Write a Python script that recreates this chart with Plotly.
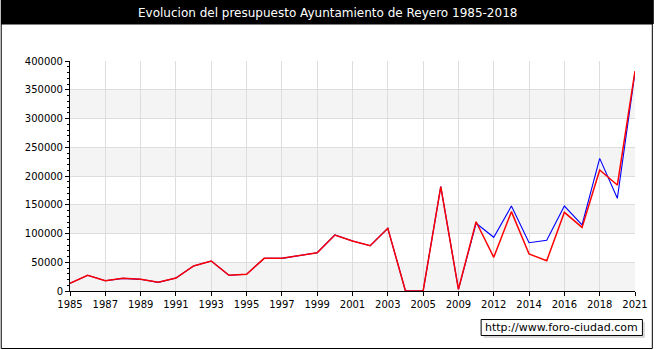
import plotly.graph_objects as go

years = [str(y) for y in range(1985, 2006)] + ["2007", "2009", "2011", "2012", "2013", "2014",
                                              "2015", "2016", "2017", "2018", "2020", "2021"]
tick_labels = years[::2]

red_values = [13400, 27300, 17900, 22000, 20300, 15100, 22600, 43500, 52200, 27300, 29000,
              56800, 56800, 61400, 66600, 97400, 87000, 78800, 109000, 0, 0, 181400, 3000,
              120500, 58600, 138000, 64300, 52700, 136800, 110700, 210400, 184300, 382600]
blue_values = [13400, 27300, 17900, 22000, 20300, 15100, 22600, 43500, 52200, 27300, 29000,
               56800, 56800, 61400, 66600, 97400, 87000, 78800, 109000, 0, 0, 181400, 3000,
               117700, 93400, 147800, 84000, 88100, 147800, 114800, 230700, 161200, 380000]

title_text = "Evolucion del presupuesto Ayuntamiento de Reyero 1985-2018"
watermark = "http://www.foro-ciudad.com"

W, H = 660, 350
L, R, T, B = 70, 641, 61, 291


def px(x):
    return (x - L) / (R - L)


def py(y):
    return (B - y) / (B - T)


fig = go.Figure()
fig.add_trace(go.Scatter(x=years, y=blue_values, mode="lines",
                         line=dict(color="#0000ff", width=1.1), name="Ingresos"))
fig.add_trace(go.Scatter(x=years, y=red_values, mode="lines",
                         line=dict(color="#ff0000", width=1.5), name="Gastos"))

shapes = []
# alternating bands
for lo in [0, 100000, 200000, 300000]:
    shapes.append(dict(type="rect", xref="paper", yref="y", x0=0, x1=1, y0=lo, y1=lo + 50000,
                       fillcolor="#f4f4f4", line=dict(width=0), layer="below"))
# title bar
shapes.append(dict(type="rect", xref="paper", yref="paper", x0=px(0), x1=px(W), y0=py(0), y1=py(24),
                   fillcolor="#000000", line=dict(width=0)))
# outer border
shapes.append(dict(type="rect", xref="paper", yref="paper", x0=px(0.5), x1=px(658.5), y0=py(24), y1=py(348.5),
                   fillcolor="rgba(0,0,0,0)", line=dict(color="#000000", width=1)))
# watermark shadow and box
shapes.append(dict(type="rect", xref="paper", yref="paper", x0=px(488), x1=px(651), y0=py(322), y1=py(338),
                   fillcolor="#d8d8d8", line=dict(width=0)))
shapes.append(dict(type="rect", xref="paper", yref="paper", x0=px(485.5), x1=px(648.5), y0=py(319.5), y1=py(335.5),
                   fillcolor="#ffffff", line=dict(color="#000000", width=1)))

annotations = [
    dict(text=title_text, xref="paper", yref="paper", x=px(330), y=py(12.5), showarrow=False,
         font=dict(family="DejaVu Sans", size=12, color="#ffffff"), xanchor="center", yanchor="middle"),
    dict(text=watermark, xref="paper", yref="paper", x=px(567), y=py(327.5), showarrow=False,
         font=dict(family="DejaVu Sans", size=11, color="#000000"), xanchor="center", yanchor="middle"),
]

fig.update_layout(
    width=W, height=H,
    margin=dict(l=L, r=W - R, t=T, b=H - B, pad=0),
    paper_bgcolor="#ffffff", plot_bgcolor="rgba(0,0,0,0)",
    showlegend=False,
    shapes=shapes, annotations=annotations,
    font=dict(family="DejaVu Sans", size=10, color="#000000"),
    xaxis=dict(type="category", range=[0, len(years) - 1], tickmode="array", tickvals=tick_labels,
               ticktext=tick_labels, showgrid=True, gridcolor="#dddddd", gridwidth=1,
               showline=True, linecolor="#000000", linewidth=1, ticks="outside", ticklen=4,
               tickcolor="#000000", tickfont=dict(size=10), zeroline=False, layer="above traces"),
    yaxis=dict(range=[0, 400000], tickmode="linear", tick0=0, dtick=50000, tickformat="d",
               showgrid=True, gridcolor="#dddddd", gridwidth=1,
               showline=True, linecolor="#000000", linewidth=1, ticks="outside", ticklen=4,
               tickcolor="#000000", tickfont=dict(size=10), zeroline=False,
               minor=dict(dtick=10000, ticks="outside", ticklen=2, tickcolor="#000000", showgrid=False)),
)

fig.write_html("out.html")
